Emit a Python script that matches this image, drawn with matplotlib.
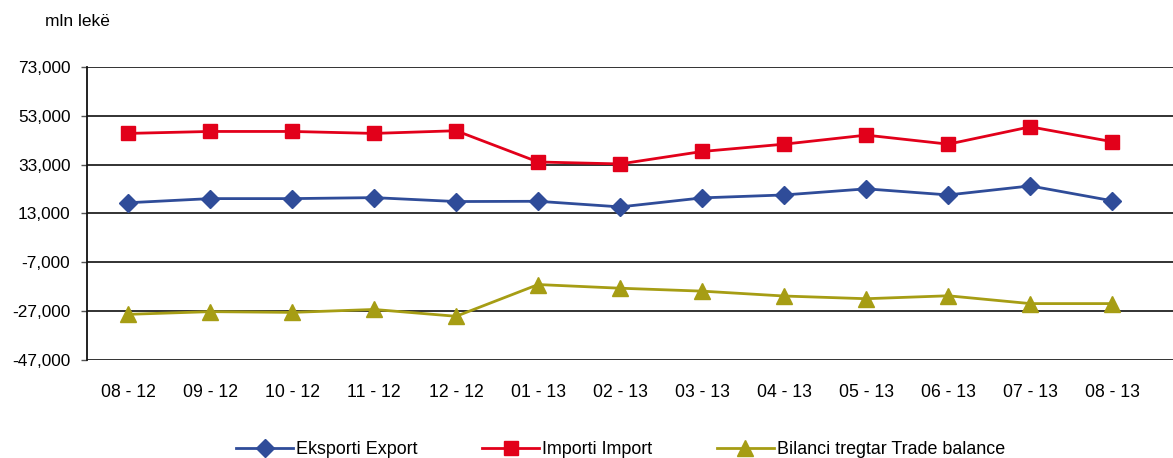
from matplotlib import pyplot as plt
from matplotlib.ticker import FuncFormatter
import numpy as np

plt.rcParams['font.family'] = ['Liberation Sans', 'DejaVu Sans']

months = ['08 - 12', '09 - 12', '10 - 12', '11 - 12', '12 - 12', '01 - 13', '02 - 13',
          '03 - 13', '04 - 13', '05 - 13', '06 - 13', '07 - 13', '08 - 13']

export_y = [17400, 19100, 19100, 19500, 17900, 18000, 15700,
            19400, 20600, 23100, 20600, 24300, 18200]
import_y = [45800, 46600, 46600, 45800, 46900, 34100, 33300,
            38400, 41400, 45100, 41400, 48500, 42400]
balance_y = [-28300, -27200, -27500, -26300, -29100, -16100, -17600,
             -18800, -20800, -21900, -20700, -23900, -23900]

yticks = [-47000, -27000, -7000, 13000, 33000, 53000, 73000]

fig = plt.figure(figsize=(11.73, 4.58), dpi=100)
ax = fig.add_axes([87/1173, 1 - 360/458, 1 - 87/1173, (360 - 67)/458])

x_pos = np.arange(len(months))

ax.plot(x_pos, export_y, color='#2F4C99', marker='D', markersize=9, linewidth=2,
        label='Eksporti Export', zorder=3)
ax.plot(x_pos, import_y, color='#E2001A', marker='s', markersize=10.5, linewidth=2,
        label='Importi Import', zorder=3)
ax.plot(x_pos, balance_y, color='#A69D14', marker='^', markersize=12, linewidth=2,
        label='Bilanci tregtar Trade balance', zorder=3)

ax.set_ylim(-47000, 73000)
ax.set_yticks(yticks)
ax.yaxis.set_major_formatter(FuncFormatter(lambda v, p: f'{v:,.0f}'))
ax.set_xlim(-0.5, 12.74)
ax.set_xticks(x_pos)
ax.set_xticklabels(months)

ax.grid(axis='y', color='#222222', linewidth=1.3)
ax.set_axisbelow(True)
for side in ['top', 'right', 'bottom']:
    ax.spines[side].set_visible(False)
ax.spines['left'].set_color('#111111')
ax.spines['left'].set_linewidth(1.3)

ax.tick_params(axis='y', length=4, width=1, color='#555555', labelsize=12.4, pad=8)
ax.tick_params(axis='x', length=0, labelsize=12.7, pad=17)

fig.text(45/1173, 1 - 22/458, 'mln lekë', fontsize=12.5, va='center', ha='left')

fig.legend(loc='center left', bbox_to_anchor=(236/1173, 1 - 450/458), ncol=3, frameon=False,
           fontsize=12.9, columnspacing=3.6, handlelength=3.2, handletextpad=0.15,
           borderpad=0, borderaxespad=0)

fig.savefig('out.png', dpi=100)
